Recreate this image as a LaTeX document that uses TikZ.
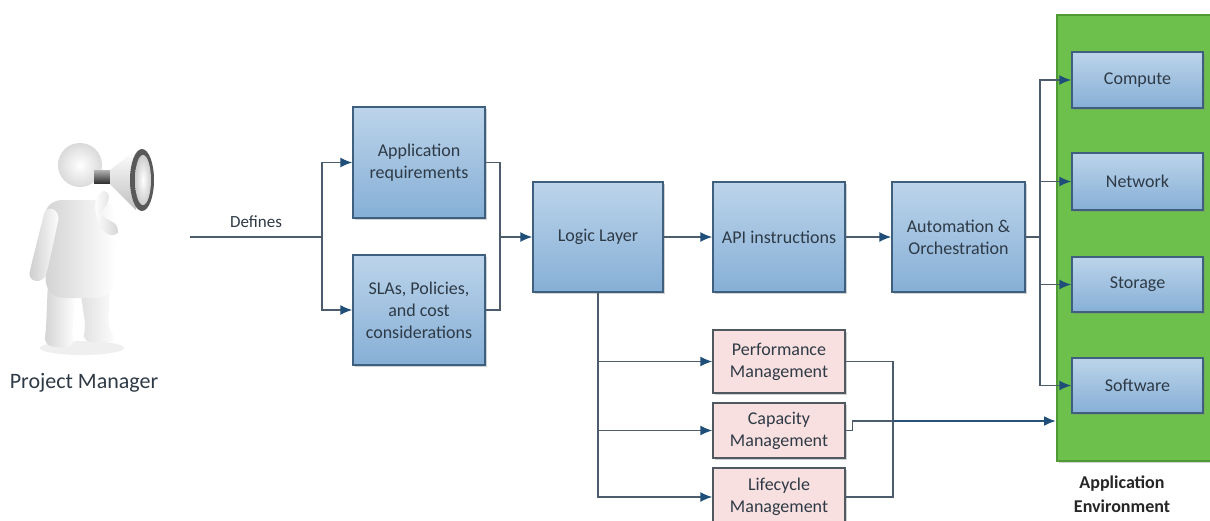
\documentclass[tikz,border=0pt]{standalone}
\usepackage{fontspec}
\setmainfont{Carlito}
\usetikzlibrary{arrows.meta,shadows,positioning}
\definecolor{boxline}{HTML}{3E5F7E}
\definecolor{bluetop}{HTML}{BCD4EA}
\definecolor{bluebot}{HTML}{86AFD6}
\definecolor{pinkfill}{HTML}{F9E0E0}
\definecolor{pinkline}{HTML}{505860}
\definecolor{envfill}{HTML}{6EC04C}
\definecolor{envline}{HTML}{4F9A34}
\definecolor{wire}{HTML}{4C5C6C}
\definecolor{tipcol}{HTML}{1F4E79}
\definecolor{txt}{HTML}{2E3A46}
\definecolor{skin}{HTML}{DADADA}
\tikzset{
  boxfont/.style={font=\fontsize{18}{22}\selectfont},
  bluebox/.style={draw=boxline, line width=1.4pt, top color=bluetop, bottom color=bluebot,
    text=txt, align=center, boxfont, inner sep=2pt,
    drop shadow={shadow xshift=2pt, shadow yshift=-2pt, opacity=0.35}},
  pinkbox/.style={draw=pinkline, line width=1.4pt, fill=pinkfill, text=txt, align=center,
    boxfont, inner sep=2pt,
    drop shadow={shadow xshift=2pt, shadow yshift=-2pt, opacity=0.35}},
  resbox/.style={bluebox, minimum width=131pt, minimum height=56pt},
  wireline/.style={draw=wire, line width=1.5pt},
  arr/.style={wireline, -{Latex[length=12pt,width=10pt,color=tipcol]}},
  fig/.style={inner color=white, outer color=skin},
}
\begin{document}
\begin{tikzpicture}[x=1pt,y=-1pt]
\clip (0,0) rectangle (1210,520);
\fill[white] (0,0) rectangle (1210,520);

% ---------- project manager figure ----------
\fill[gray!20, opacity=0.6] (82,348) ellipse (42pt and 7pt);
% legs
\shade[left color=gray!35, right color=white, rounded corners=9pt]
  (48,280) -- (46,330) -- (44,346) -- (74,348) -- (72,334) -- (76,290) -- cycle;
\shade[left color=gray!25, right color=white, rounded corners=9pt]
  (80,288) -- (86,330) -- (82,342) -- (118,342) -- (108,328) -- (110,284) -- cycle;
% torso
\shade[left color=gray!35, right color=white, rounded corners=18pt]
  (44,200) -- (116,200) -- (114,298) -- (46,298) -- cycle;
% left arm hanging down
\shade[left color=gray!40, right color=white, rounded corners=8pt]
  (46,206) -- (60,212) -- (48,268) -- (44,282) -- (28,280) -- (32,262) -- cycle;
% raised right arm holding the megaphone
\shade[left color=white, right color=gray!35, rounded corners=8pt]
  (98,214) -- (120,226) -- (116,238) -- (100,230) -- (94,206) -- (98,192) -- (110,190) -- (108,206) -- cycle;
% head
\shade[fig] (80,165) circle (22pt);
% megaphone
\shade[top color=gray!60, bottom color=black!80] (94,170) rectangle (112,183);
\shade[top color=white, bottom color=gray!50] (110,170) -- (136,150) -- (136,210) -- (110,184) -- cycle;
\fill[black!65] (142,180) ellipse (12pt and 31pt);
\shade[inner color=white, outer color=gray!40] (143,180) ellipse (8pt and 25pt);
\node[font=\fontsize{22}{24}\selectfont, text=txt] (pmlabel) at (84,383) {Project Manager};

% ---------- main flow boxes ----------
\node[bluebox, minimum width=132pt, minimum height=111pt] (req) at (419,162.5) {Application\\requirements};
\node[bluebox, minimum width=132pt, minimum height=110pt] (sla) at (419,310) {SLAs, Policies,\\and cost\\considerations};
\node[bluebox, minimum width=130pt, minimum height=110pt] (logic) at (598,237) {Logic Layer};
\node[bluebox, minimum width=132pt, minimum height=110pt] (api) at (779,237) {API instructions};
\node[bluebox, minimum width=133pt, minimum height=110pt] (auto) at (958.5,237) {Automation \&\\Orchestration};

% ---------- management boxes ----------
\node[pinkbox, minimum width=132pt, minimum height=63pt] (perf) at (779,361.5) {Performance\\Management};
\node[pinkbox, minimum width=132pt, minimum height=55pt] (cap) at (779,430.5) {Capacity\\Management};
\node[pinkbox, minimum width=132pt, minimum height=58pt] (life) at (779,497) {Lifecycle\\Management};

% ---------- application environment ----------
\node[draw=envline, line width=1.5pt, fill=envfill, minimum width=160pt, minimum height=446pt,
  anchor=north west, inner sep=0pt,
  drop shadow={shadow xshift=2pt, shadow yshift=-2pt, opacity=0.35}] (env) at (1056,14) {};
\node[resbox] (compute) at (1137.5,80) {Compute};
\node[resbox, minimum height=57pt] (network) at (1137.5,181.5) {Network};
\node[resbox, minimum height=55pt] (storage) at (1137.5,284.5) {Storage};
\node[resbox, minimum height=55pt] (software) at (1137.5,385.5) {Software};
\node[font=\bfseries\fontsize{18}{24}\selectfont, text=black!85, align=center] (envlabel)
  at (1122,494) {Application\\Environment};

% ---------- connectors ----------
\coordinate (pm) at (190,237);
\coordinate (split1) at (322,237);
\coordinate (join1) at (500,237);
\coordinate (split2) at (1040,237);
\coordinate (mgmtjoin) at (893,421);

\draw[wireline] (pm) -- node[above=5pt, text=txt, font=\fontsize{17}{20}\selectfont] {Defines} (split1);
\draw[arr] (split1) |- (req.west);
\draw[arr] (split1) |- (sla.west);
\draw[wireline] (req.east) -| (join1);
\draw[wireline] (sla.east) -| (join1);
\draw[arr] (join1) -- (logic.west);
\draw[arr] (logic) -- (api);
\draw[arr] (api) -- (auto);

\draw[wireline] (auto.east) -- (split2);
\draw[arr] (split2) |- (compute.west);
\draw[arr] (split2) |- (network.west);
\draw[arr] (split2) |- (storage.west);
\draw[arr] (split2) |- (software.west);

\draw[arr] (logic.south) |- (perf.west);
\draw[arr] (logic.south) |- (cap.west);
\draw[arr] (logic.south) |- (life.west);

\draw[wireline] (perf.east) -| (mgmtjoin);
\draw[wireline] (life.east) -| (mgmtjoin);
\draw[wireline] (cap.east) -- ++(7,0) |- (mgmtjoin);
\draw[arr, line width=2.2pt, draw=tipcol!80!wire] (mgmtjoin) -- (env.west |- mgmtjoin);
\end{tikzpicture}
\end{document}
